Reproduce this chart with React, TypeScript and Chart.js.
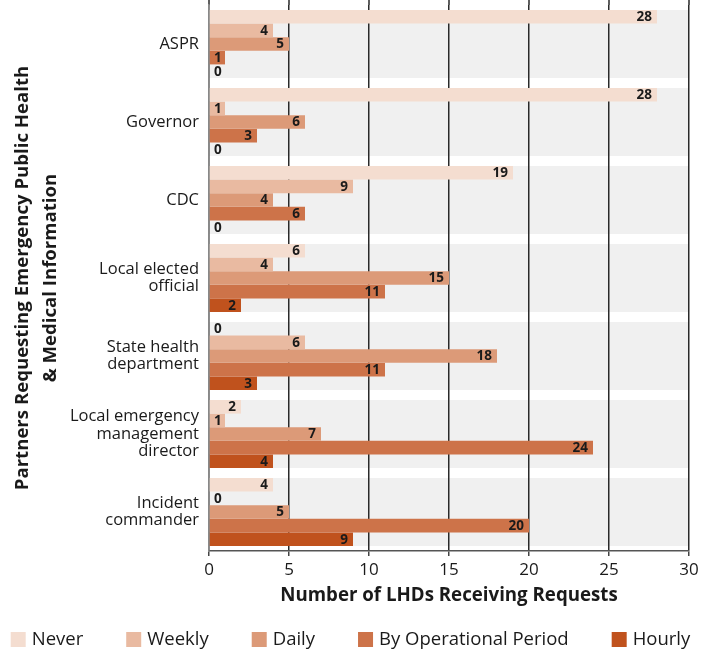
import React, { useEffect, useRef } from 'react';
import { Chart, registerables } from 'chart.js';

Chart.register(...registerables);

const categories: string[][] = [
  ['ASPR'],
  ['Governor'],
  ['CDC'],
  ['Local elected', 'official'],
  ['State health', 'department'],
  ['Local emergency', 'management', 'director'],
  ['Incident', 'commander'],
];
const seriesNames = ['Never', 'Weekly', 'Daily', 'By Operational Period', 'Hourly'];
const never = [28, 28, 19, 6, 0, 2, 4];
const weekly = [4, 1, 9, 4, 6, 1, 0];
const daily = [5, 6, 4, 15, 18, 7, 5];
const byOperationalPeriod = [1, 3, 6, 11, 11, 24, 20];
const hourly = [0, 0, 0, 2, 3, 4, 9];
const seriesColors = ['#f4ddd0', '#e9baa1', '#dc9a78', '#cd7349', '#c0521d'];
const xMin = 0;
const xMax = 30;
const xStep = 5;
const xTitle = 'Number of LHDs Receiving Requests';
const yTitle = ['Partners Requesting Emergency Public Health', '& Medical Information'];

const FONT = "'Open Sans', 'Noto Sans', sans-serif";
const CAT_PCT = 0.872;
const TEXT = '#1a1a1a';

const decorPlugin = {
  id: 'decor',
  beforeDraw(chart: any) {
    const { ctx, chartArea, scales } = chart;
    const y = scales.y;
    const x = scales.x;
    const pitch = Math.abs(y.getPixelForValue(1) - y.getPixelForValue(0));
    const half = (pitch * CAT_PCT) / 2;
    ctx.save();
    ctx.fillStyle = '#f0f0f0';
    for (let i = 0; i < categories.length; i++) {
      const c = y.getPixelForValue(i);
      ctx.fillRect(chartArea.left, c - half, chartArea.right - chartArea.left, half * 2);
    }
    // extend grid lines to top edge
    ctx.strokeStyle = '#2a2a2a';
    ctx.lineWidth = 1.5;
    for (let v = xMin; v <= xMax; v += xStep) {
      const px = x.getPixelForValue(v);
      ctx.beginPath();
      ctx.moveTo(px, 0);
      ctx.lineTo(px, chartArea.top);
      ctx.stroke();
    }
    ctx.restore();
  },
  afterDatasetsDraw(chart: any) {
    const { ctx, scales } = chart;
    const zeroPx = scales.x.getPixelForValue(0);
    ctx.save();
    ctx.font = `bold 13.5px ${FONT}`;
    ctx.fillStyle = TEXT;
    ctx.textAlign = 'right';
    ctx.textBaseline = 'middle';
    chart.data.datasets.forEach((ds: any, di: number) => {
      const meta = chart.getDatasetMeta(di);
      meta.data.forEach((bar: any, i: number) => {
        const txt = String(ds.data[i]);
        const w = ctx.measureText(txt).width;
        const right = Math.max(bar.x - 5, zeroPx + 5 + w);
        ctx.fillText(txt, right, bar.y + 0.5);
      });
    });
    ctx.restore();
  },
  afterDraw(chart: any) {
    const { ctx, chartArea, width } = chart;
    ctx.save();
    ctx.fillStyle = TEXT;
    // x title
    ctx.font = `bold 18.7px ${FONT}`;
    ctx.textAlign = 'center';
    ctx.textBaseline = 'middle';
    ctx.fillText(xTitle, (chartArea.left + chartArea.right) / 2, 596);
    // y title
    ctx.font = `bold 18.6px ${FONT}`;
    const cy = (chartArea.top + chartArea.bottom) / 2;
    ctx.save();
    ctx.translate(0, cy);
    ctx.rotate(-Math.PI / 2);
    ctx.fillText(yTitle[0], 0, 23);
    ctx.fillText(yTitle[1], 0, 51);
    ctx.restore();
    // legend
    ctx.font = `18.5px ${FONT}`;
    const box = 15;
    const boxGap = 6;
    const itemGap = 43;
    const widths = seriesNames.map((n) => ctx.measureText(n).width);
    const total = widths.reduce((a, b) => a + b, 0) + seriesNames.length * (box + boxGap) + (seriesNames.length - 1) * itemGap;
    let cx = (width - total) / 2;
    const ly = 640;
    ctx.textAlign = 'left';
    seriesNames.forEach((n, i) => {
      ctx.fillStyle = seriesColors[i];
      ctx.fillRect(cx, ly - box / 2 - 0.5, box, box);
      ctx.fillStyle = TEXT;
      ctx.fillText(n, cx + box + boxGap, ly);
      cx += box + boxGap + widths[i] + itemGap;
    });
    ctx.restore();
  },
};

export default function App() {
  const ref = useRef<HTMLCanvasElement | null>(null);
  useEffect(() => {
    if (!ref.current) return;
    const seriesData = [never, weekly, daily, byOperationalPeriod, hourly];
    const chart = new Chart(ref.current, {
      type: 'bar',
      data: {
        labels: categories,
        datasets: seriesNames.map((name, i) => ({
          label: name,
          data: seriesData[i],
          backgroundColor: seriesColors[i],
          borderWidth: 0,
          categoryPercentage: CAT_PCT,
          barPercentage: 1,
        })),
      },
      options: {
        indexAxis: 'y',
        responsive: false,
        animation: false,
        layout: { padding: { top: 5, right: 12, bottom: 0, left: 0 } },
        plugins: {
          legend: { display: false },
          tooltip: { enabled: false },
          title: { display: false },
        },
        scales: {
          x: {
            type: 'linear',
            min: xMin,
            max: xMax,
            ticks: { stepSize: xStep, color: TEXT, font: { family: FONT, size: 17 }, padding: 4 },
            grid: { color: '#2a2a2a', lineWidth: 1.5, tickLength: 5, tickColor: '#444' },
            border: { color: '#555', width: 1.5 },
            afterFit: (s: any) => {
              s.height = 102;
              s.paddingLeft = 0;
              s.paddingRight = 0;
            },
          },
          y: {
            type: 'category',
            ticks: { color: TEXT, font: { family: FONT, size: 16.5, lineHeight: 1.05 }, padding: 10 },
            grid: { display: false, drawTicks: false },
            border: { color: '#888', width: 1.5 },
            afterFit: (s: any) => {
              s.width = 209;
              s.paddingTop = 0;
              s.paddingBottom = 0;
            },
          },
        },
      },
      plugins: [decorPlugin],
    } as any);
    return () => chart.destroy();
  }, []);
  return (
    <div style={{ position: 'fixed', left: 0, top: 0, width: 701, height: 653, background: '#fff' }}>
      <canvas ref={ref} width={701} height={653} style={{ width: 701, height: 653, display: 'block' }} />
    </div>
  );
}
